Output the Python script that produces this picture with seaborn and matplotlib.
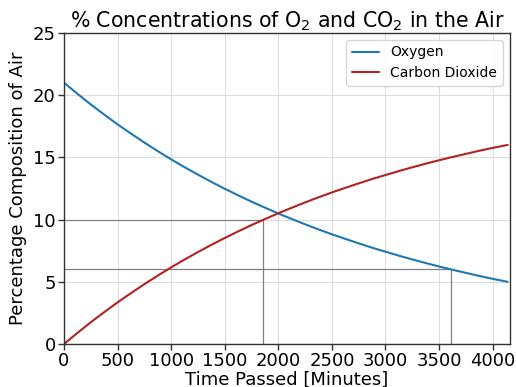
import matplotlib
matplotlib.use("Agg")
import matplotlib.pyplot as plt
import seaborn as sns
import pandas as pd

time_min = [0, 125, 250, 375, 500, 625, 750, 875, 1000, 1125, 1250, 1375, 1500,
            1625, 1750, 1875, 2000, 2125, 2250, 2375, 2500, 2625, 2750, 2875,
            3000, 3125, 3250, 3375, 3500, 3625, 3750, 3875, 4000, 4140]
oxygen = [21.0, 20.11, 19.25, 18.44, 17.65, 16.91, 16.19, 15.50, 14.84, 14.21,
          13.61, 13.03, 12.48, 11.95, 11.44, 10.96, 10.49, 10.05, 9.62, 9.21,
          8.82, 8.45, 8.09, 7.74, 7.42, 7.10, 6.80, 6.51, 6.23, 5.97, 5.72,
          5.47, 5.24, 5.0]
carbon_dioxide = [0.0, 0.89, 1.75, 2.56, 3.35, 4.09, 4.81, 5.50, 6.16, 6.79,
                  7.39, 7.97, 8.52, 9.05, 9.56, 10.04, 10.51, 10.95, 11.38,
                  11.79, 12.18, 12.55, 12.91, 13.26, 13.58, 13.90, 14.20, 14.49,
                  14.77, 15.03, 15.28, 15.53, 15.76, 16.0]
# reference markers: (time, level)
marker_times = [1860, 3615]
marker_levels = [10, 6]

sns.set_style("whitegrid")
plt.rcParams['font.family'] = ['DejaVu Sans']
plt.rcParams['text.color'] = 'black'
plt.rcParams['axes.labelcolor'] = 'black'
plt.rcParams['xtick.color'] = 'black'
plt.rcParams['ytick.color'] = 'black'

df = pd.DataFrame({"t": time_min * 2,
                   "v": oxygen + carbon_dioxide,
                   "gas": ["Oxygen"] * len(time_min) + ["Carbon Dioxide"] * len(time_min)})

fig = plt.figure(figsize=(5.16, 3.87), dpi=100)
ax = fig.add_axes([0.124, 0.111, 0.864, 0.804])
sns.lineplot(data=df, x="t", y="v", hue="gas",
             palette={"Oxygen": "#1f77b4", "Carbon Dioxide": "#b22222"},
             linewidth=1.5, ax=ax, sort=True)

for t, lv in zip(marker_times, marker_levels):
    ax.plot([0, t], [lv, lv], color="#808080", linewidth=0.9, zorder=1)
    ax.plot([t, t], [0, lv], color="#808080", linewidth=0.9, zorder=1)

ax.set_xlim(0, 4160)
ax.set_ylim(0, 25)
ax.set_xticks([0, 500, 1000, 1500, 2000, 2500, 3000, 3500, 4000])
ax.set_yticks([0, 5, 10, 15, 20, 25])
ax.grid(True, color="#dddddd", linewidth=0.8)
for s in ax.spines.values():
    s.set_color("#333333")
    s.set_linewidth(1.0)
ax.tick_params(axis="both", labelsize=13, direction="out", length=4, width=1,
               bottom=True, left=True, color="#333333", pad=2)
ax.set_xlabel("Time Passed [Minutes]", fontsize=13, labelpad=0)
ax.set_ylabel("Percentage Composition of Air", fontsize=13)
ax.set_title("% Concentrations of O$_2$ and CO$_2$ in the Air", fontsize=14.8, pad=4)
leg = ax.legend(loc="upper right", fontsize=10, frameon=True)
leg.get_frame().set_edgecolor("#cccccc")

fig.savefig("out.png", dpi=100)
